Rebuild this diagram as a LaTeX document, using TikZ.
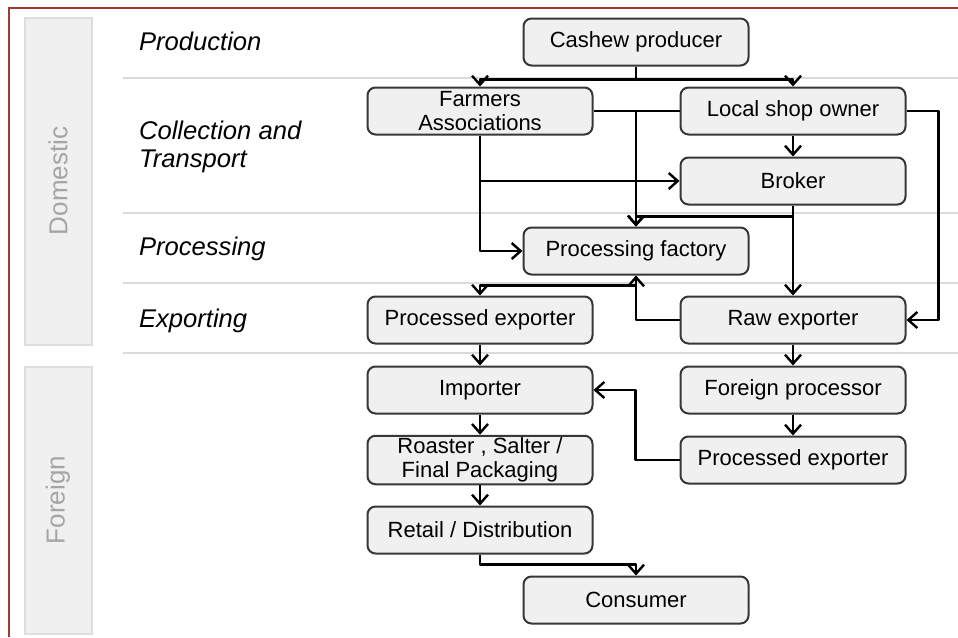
\documentclass[tikz,border=0pt]{standalone}
\usepackage{fontspec}
\setmainfont{Liberation Sans}
\usetikzlibrary{arrows.meta}
\definecolor{boxfill}{RGB}{240,240,240}
\definecolor{boxline}{RGB}{55,55,55}
\definecolor{sepline}{RGB}{218,218,218}
\definecolor{frameline}{RGB}{165,55,55}
\definecolor{sidetext}{RGB}{165,165,165}
\definecolor{sideline}{RGB}{222,222,222}
\begin{document}
\begin{tikzpicture}[x=0.5pt,y=-0.5pt,
    actor/.style={draw=boxline,fill=boxfill,line width=1pt,rounded corners=4pt,
      minimum width=112.5pt,minimum height=23.5pt,inner sep=1pt,align=center,
      font=\fontsize{11}{12}\selectfont},
    stage/.style={anchor=west,align=left,font=\fontsize{12.8}{14}\selectfont\itshape},
    side/.style={draw=sideline,fill=boxfill,line width=0.8pt},
    sidelabel/.style={rotate=90,text=sidetext,font=\fontsize{13}{15}\selectfont},
    sep/.style={draw=sepline,line width=0.8pt},
    flow/.style={line width=1.2pt,line join=round,->},
    >={Straight Barb[length=4.5pt,width=8pt]}]
    \useasboundingbox (0,0) rectangle (958,637);
    \draw[frameline,line width=1pt] (9,637) -- (9,8) -- (958,8);
    % side bands
    \draw[side] (25,18) rectangle (92,345);
    \node[sidelabel] (dom) at (58,181) {Domestic};
    \draw[side] (25,367) rectangle (92,634);
    \node[sidelabel] (for) at (58,500) {Foreign};
    \foreach \y in {78,213,283,353}
    {\draw[sep] (123,\y) -- (958,\y);}
    % stages
    \node[stage] (prod) at (132,41) {Production};
    \node[stage] (coll) at (132,147) {Collection and\\Transport};
    \node[stage] (proc) at (132,249) {Processing};
    \node[stage] (expo) at (132,321) {Exporting};
    % actors
    \node[actor] (cp) at (636,42) {Cashew producer};
    \node[actor] (fa) at (480,111) {Farmers\\Associations};
    \node[actor] (lso) at (793,111) {Local shop owner};
    \node[actor] (br) at (793,181) {Broker};
    \node[actor] (pf) at (636,251) {Processing factory};
    \node[actor] (pe) at (480,320) {Processed exporter};
    \node[actor] (re) at (793,320) {Raw exporter};
    \node[actor] (im) at (480,390) {Importer};
    \node[actor] (fp) at (793,390) {Foreign processor};
    \node[actor] (rs) at (480,460) {Roaster , Salter /\\Final Packaging};
    \node[actor] (fe) at (793,460) {Processed exporter};
    \node[actor] (rd) at (480,530) {Retail / Distribution};
    \node[actor] (co) at (636,600) {Consumer};
    % flows
    \draw[flow] (cp.south) -- ++(0,13) -| (fa.north);
    \draw[flow] (cp.south) -- ++(0,13) -| (lso.north);
    \draw[flow] (fa.east) -| (pf.north);
    \draw[flow] (lso.west) -| (pf.north);
    \draw[flow] (fa.south) |- (br.west);
    \draw[flow] (fa.south) |- (pf.west);
    \draw[flow] (lso.south) -- (br.north);
    \draw[flow] (br.south) -- ++(0,11) -| (pf.north);
    \draw[flow] (br.south) -- (re.north);
    \draw[flow] (lso.east) -- ++(32,0) |- (re.east);
    \draw[flow] (pf.south) -- ++(0,10) -| (pe.north);
    \draw[flow] (re.west) -| (pf.south);
    \draw[flow] (pe.south) -- (im.north);
    \draw[flow] (re.south) -- (fp.north);
    \draw[flow] (im.south) -- (rs.north);
    \draw[flow] (fp.south) -- (fe.north);
    \draw[flow] (fe.west) -- ++(-44,0) |- (im.east);
    \draw[flow] (rs.south) -- (rd.north);
    \draw[flow] (rd.south) -- ++(0,10) -| (co.north);
\end{tikzpicture}
\end{document}
